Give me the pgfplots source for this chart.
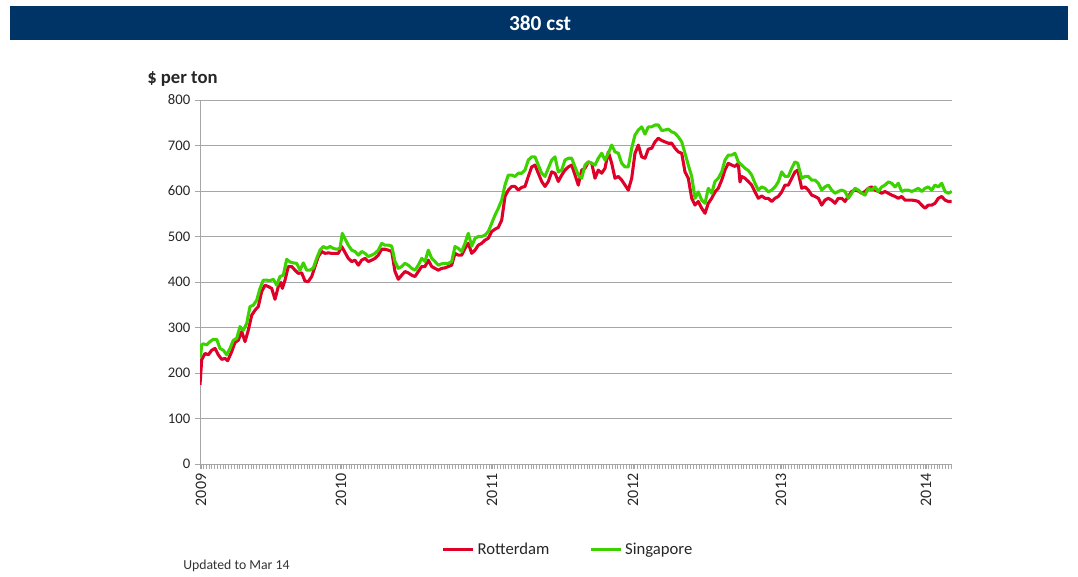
\documentclass[border=0pt]{standalone}
\usepackage{pgfplots}
\pgfplotsset{compat=1.18}
\usepackage{fontspec}
\setmainfont{Carlito}
\definecolor{banner}{RGB}{0,51,102}
\definecolor{rott}{RGB}{222,0,40}
\definecolor{sing}{RGB}{60,210,0}
\definecolor{gridc}{RGB}{166,166,166}
\begin{document}
\begin{tikzpicture}
\path (0,0) rectangle (808.5pt,432pt);
\fill[banner] (7.5pt,402pt) rectangle (801pt,427.5pt);
\node[text=white,font=\fontsize{16}{19}\selectfont\bfseries] at (405pt,414.75pt) {380 cst};
\node[anchor=west,inner sep=0pt,font=\fontsize{14}{16}\selectfont\bfseries,text=black!85] at (110.25pt,372.75pt) {\$ per ton};
\node[anchor=west,inner sep=0pt,font=\fontsize{10.3}{12}\selectfont,text=black!80] at (137.25pt,7.5pt) {Updated to Mar 14};
\begin{axis}[
  at={(150pt,84pt)}, anchor=south west,
  scale only axis, width=564pt, height=273pt,
  xmin=200, xmax=952, ymin=0, ymax=800,
  axis x line=bottom, axis y line=left,
  axis line style={gridc, -},
  ytick={0,100,...,800},
  ymajorgrids, grid style={gridc, line width=0.75pt},
  xtick={201,341,492,633,781,926},
  xticklabels={2009,2010,2011,2012,2013,2014},
  minor xtick={200.5,203.3,...,952},
  tick align=outside, tick style={gridc, line width=0.4pt},
  major tick length=3.75pt, minor tick length=3.75pt,
  xticklabel style={rotate=90, anchor=east, font=\fontsize{12}{14}\selectfont, text=black!85},
  yticklabel style={font=\fontsize{11}{13}\selectfont, text=black!85},
  /pgf/number format/assume math mode=true,
  legend columns=2,
  legend style={at={(0.49,-0.236)}, anchor=center, draw=none, fill=none,
    font=\fontsize{12.5}{15}\selectfont, text=black!85,
    /tikz/every even column/.append style={column sep=28pt}},
  legend image code/.code={\draw[#1] (0pt,0pt) -- (22.5pt,0pt);},
]
\addplot[rott, line width=2.3pt, line join=round] coordinates {
(200,174) (201.7,229) (205,243) (208.3,240) (211.7,250) (215,254) (218.3,240) (221.7,230) (225,232) (227.7,227) (231.7,247) (235,267) (238.3,272) (241.7,291) (245,269) (248.3,294) (251.7,327) (255,338) (258.3,346) (261.7,379) (265,393) (268.3,390) (271.7,386) (275,362) (278.3,390) (281,399) (282.3,386) (285,404) (288.3,434) (291.7,434) (295,426) (298.3,419) (301.7,420) (305,402) (308.3,401) (311.7,412) (315,434) (318.3,456) (321.7,467) (325,463) (328.3,464) (331.7,463) (335,463) (338.3,463) (341.7,478) (345,465) (348.3,452) (351.7,445) (355,448) (358.3,437) (361.7,448) (365,452) (368.3,445) (371.7,448) (375,452) (378.3,459) (381.7,472) (385,472) (388.3,470) (391.7,467) (395,423) (398.3,406) (401.7,415) (405,423) (408.3,420) (411.7,415) (415,412) (418.3,423) (421.7,434) (425,434) (428.3,448) (431.7,434) (435,430) (438.3,426) (441.7,430) (445,431) (448.3,434) (451.7,437) (455,463) (458.3,459) (461.7,459) (465,474) (468.3,485) (471.7,463) (475,470) (478.3,481) (481.7,485) (485,492) (488.3,496) (491.7,511) (495,516) (498.3,520) (501.7,536) (505,588) (508.3,602) (511.7,610) (515,610) (518.3,602) (521.7,608) (525,610) (528.3,632) (531.7,653) (535,657) (538.3,639) (541.7,621) (545,610) (548.3,621) (551.7,642) (555,639) (558.3,621) (561.7,635) (565,646) (568.3,653) (571.7,657) (575,635) (578.3,613) (581.7,646) (585,650) (588.3,664) (591.7,661) (595,628) (598.3,646) (601.7,639) (605,650) (608.3,686) (611.7,661) (615,628) (618.3,632) (621.7,624) (625,613) (628.3,602) (631.7,628) (635,683) (638.3,701) (641.7,675) (645,672) (648.3,692) (651.7,694) (655,708) (658.3,716) (661.7,711) (665,708) (668.3,705) (671.7,705) (675,694) (678.3,686) (681.7,683) (685,642) (688.3,628) (691.7,584) (695,569) (698.3,577) (701.7,562) (705,551) (708.3,573) (711.7,584) (715,598) (718.3,606) (721.7,624) (725,646) (728.3,661) (731.7,657) (735,654) (738.3,661) (740,620) (741.7,632) (745,628) (748.3,621) (751.7,613) (755,598) (758.3,584) (761.7,589) (765,584) (768.3,584) (771.7,577) (775,584) (778.3,588) (781.7,598) (785,613) (788.3,613) (791.7,628) (795,642) (797.7,646) (801.7,606) (805,609) (808.3,602) (811.7,591) (815,588) (818.3,584) (821.7,569) (825,580) (828.3,584) (831.7,580) (835,573) (838.3,584) (841.7,584) (845,577) (848.3,588) (851.7,599) (855,602) (858.3,600) (861.7,595) (865,599) (868.3,606) (871.7,609) (875,602) (878.3,599) (881.7,595) (885,599) (888.3,595) (891.7,591) (895,588) (898.3,584) (901.7,588) (905,580) (908.3,580) (911.7,580) (915,579) (918.3,577) (921.7,569) (925,562) (928.3,569) (931.7,569) (935,573) (938.3,584) (941.7,588) (945,580) (948.3,577) (951.7,577)
};
\addlegendentry{Rotterdam}
\addplot[sing, line width=2.3pt, line join=round] coordinates {
(200.5,235) (201.7,262) (203.3,264) (206.7,262) (210,269) (213.3,274) (216.7,274) (220,254) (223.3,250) (226.7,240) (230,254) (233.3,272) (236.7,276) (240,302) (243.3,294) (246.7,309) (250,346) (253.3,349) (256.7,360) (260,386) (263.3,404) (266.7,404) (270,403) (273.3,406) (276.7,393) (280,412) (283.3,415) (286.7,450) (290,444) (293.3,442) (296.7,441) (300,426) (303.3,442) (306.7,426) (310,426) (313.3,431) (316.7,452) (320,470) (323.3,478) (326.7,474) (330,478) (333.3,474) (336.7,472) (340,474) (342.3,507) (345,495) (348.3,481) (351.7,470) (355,467) (358.3,459) (361.7,467) (365,463) (368.3,456) (371.7,459) (375,463) (378.3,470) (381.7,485) (385,481) (388.3,481) (391.7,479) (395,445) (398.3,430) (401.7,434) (405,441) (408.3,437) (411.7,430) (415,426) (418.3,437) (421.7,452) (425,445) (428.3,470) (431.7,452) (435,445) (438.3,437) (441.7,440) (445,441) (448.3,441) (451.7,445) (455,478) (458.3,474) (461.7,467) (465,485) (468.3,507) (471.7,479) (475,496) (478.3,500) (481.7,500) (485,503) (488.3,511) (491.7,529) (495,547) (498.3,562) (501.7,580) (505,613) (508.3,635) (511.7,635) (515,632) (518.3,639) (521.7,639) (525,646) (528.3,668) (531.7,675) (535,675) (538.3,657) (541.7,639) (545,632) (548.3,650) (551.7,668) (555,675) (558.3,642) (561.7,646) (565,668) (568.3,672) (571.7,672) (575,653) (578.3,635) (581.7,628) (585,657) (588.3,664) (591.7,661) (595,657) (598.3,672) (601.7,683) (605,668) (608.3,683) (611.7,701) (615,686) (618.3,683) (621.7,661) (625,653) (628.3,653) (631.7,694) (635,723) (638.3,734) (641.7,741) (645,725) (648.3,741) (651.7,741) (655,745) (658.3,745) (661.7,733) (665,734) (668.3,736) (671.7,730) (675,727) (678.3,719) (681.7,708) (685,683) (688.3,657) (691.7,632) (695,584) (698.3,598) (701.7,580) (705,573) (708.3,606) (711.7,595) (715,621) (718.3,628) (721.7,642) (725,668) (728.3,679) (731.7,679) (735,683) (738.3,664) (741.7,657) (745,650) (748.3,645) (751.7,635) (755,617) (758.3,602) (761.7,609) (765,606) (768.3,598) (771.7,602) (775,609) (778.3,620) (781.7,642) (785,632) (788.3,632) (791.7,650) (795,664) (797.7,661) (801.7,628) (805,632) (808.3,632) (811.7,624) (815,624) (818.3,617) (821.7,602) (825,609) (828.3,613) (831.7,602) (835,595) (838.3,599) (841.7,602) (845,599) (848.3,584) (851.7,595) (855,606) (858.3,602) (861.7,595) (865,591) (868.3,606) (871.7,602) (875,609) (878.3,599) (881.7,609) (885,613) (888.3,620) (891.7,617) (895,609) (898.3,617) (901.7,599) (905,602) (908.3,602) (911.7,599) (915,602) (918.3,606) (921.7,599) (925,606) (928.3,609) (931.7,602) (935,613) (938.3,609) (941.7,617) (945,599) (948.3,595) (951.7,599)
};
\addlegendentry{Singapore}
\end{axis}
\end{tikzpicture}
\end{document}
